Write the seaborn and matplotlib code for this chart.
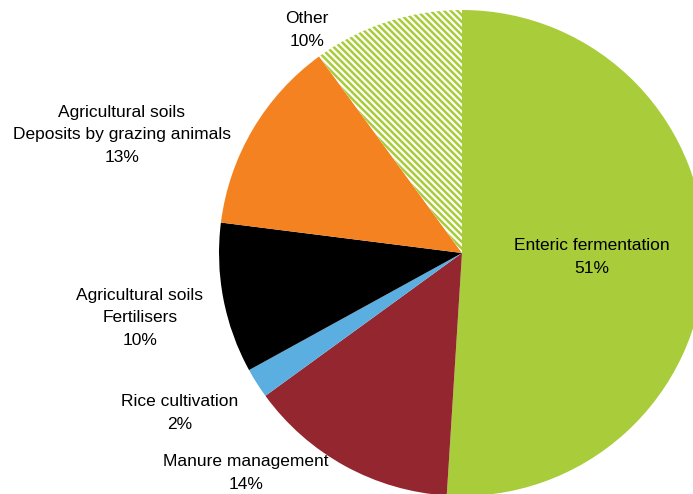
import matplotlib
matplotlib.use("Agg")
import matplotlib.pyplot as plt
import seaborn as sns

sns.set_theme(style="white")
plt.rcParams["font.family"] = ["Liberation Sans Narrow", "Liberation Sans", "DejaVu Sans"]
plt.rcParams["hatch.linewidth"] = 1.8

# Sources of agricultural greenhouse-gas emissions (share, %)
categories = [
    "Enteric fermentation",
    "Manure management",
    "Rice cultivation",
    "Agricultural soils\nFertilisers",
    "Agricultural soils\nDeposits by grazing animals",
    "Other",
]
shares = [51, 14, 2, 10, 13, 10]

colors = ["#A8CC3A", "#94262F", "#5BAEE0", "#000000", "#F58220", "#FFFFFF"]
hatch_color = "#A8CC3A"

W, H = 693, 494
# Label anchor points (pixels from the top-left corner)
label_xy = [(592, 257), (246, 473), (180, 413), (140, 318), (122, 135), (307, 30)]

fig = plt.figure(figsize=(W / 100, H / 100), dpi=100)
ax = fig.add_axes([0, 0, 1, 1])

center = (462, H - 253)
radius = 243
wedges, _ = ax.pie(
    shares,
    colors=colors,
    startangle=90,
    counterclock=False,
    center=center,
    radius=radius,
    wedgeprops=dict(linewidth=0),
    frame=True,
)
ax.set_xlim(0, W)
ax.set_ylim(0, H)
ax.set_aspect("equal")
ax.axis("off")

# Hatched "Other" slice: fine green diagonal stripes on white
other = wedges[-1]
other.set_facecolor("white")
other.set_edgecolor(hatch_color)
other.set_hatch("\\" * 5)
other.set_linewidth(0)

for name, val, (x, y) in zip(categories, shares, label_xy):
    ax.text(x, H - y, f"{name}\n{val}%", ha="center", va="center",
            fontsize=12.5, color="#000000", linespacing=1.64)

fig.savefig("out.png", dpi=100)
